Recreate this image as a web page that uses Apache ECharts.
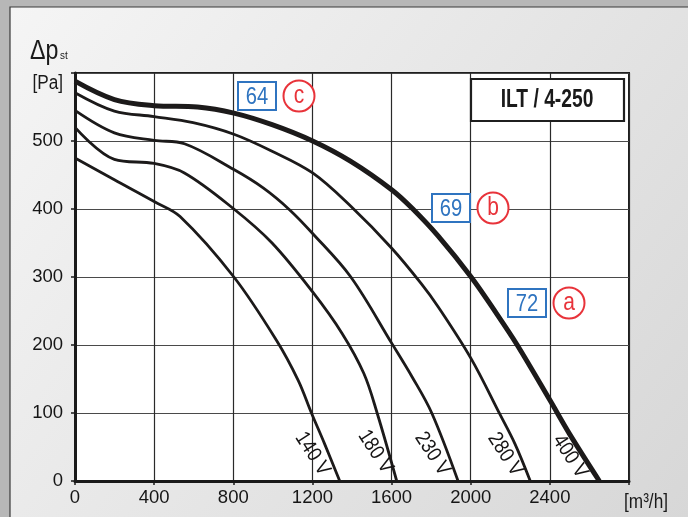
<!DOCTYPE html>
<html>
<head>
<meta charset="utf-8">
<script src="https://cdn.jsdelivr.net/npm/echarts@6/dist/echarts.min.js"></script>
<style>
html,body{margin:0;padding:0;background:#b7b7b7;}
#c{width:688px;height:517px;}
</style>
</head>
<body>
<div id="c"></div>
<script>
// ---- data (airflow m3/h, static pressure Pa) ----
const xTicks = [0, 400, 800, 1200, 1600, 2000, 2400, 2800];
const yTicks = [0, 100, 200, 300, 400, 500, 600];
const curveNames = ['140 V', '180 V', '230 V', '280 V', '400 V'];

const flow140  = [0, 199, 400, 531, 803, 1018, 1128, 1195, 1261, 1338];
const press140 = [475, 443, 411, 389, 300, 207, 148, 100, 55, 0];

const flow180  = [0, 199, 400, 553, 803, 996, 1201, 1350, 1460, 1527, 1626];
const press180 = [520, 473, 467, 453, 400, 350, 278, 217, 158, 100, 0];

const flow230  = [0, 199, 400, 553, 803, 951, 1084, 1201, 1394, 1602, 1704, 1803, 1936];
const press230 = [545, 512, 501, 496, 458, 431, 399, 364, 300, 202, 153, 100, 0];

const flow280  = [0, 199, 400, 597, 803, 996, 1201, 1394, 1602, 1748, 1836, 2002, 2146, 2223, 2301];
const press280 = [571, 544, 536, 527, 510, 485, 453, 404, 342, 291, 256, 180, 99, 55, 0];

const flow400  = [0, 199, 400, 619, 803, 996, 1201, 1394, 1602, 1704, 1836, 2002, 2124, 2235, 2400, 2500, 2650];
const press400 = [588, 561, 552, 550, 541, 524, 500, 470, 428, 401, 360, 300, 249, 200, 119, 69, 0];

// curve-label anchors (data coordinates)
const labelFlow  = [1200, 1518, 1806, 2174, 2502];
const labelPress = [40, 43, 40, 39, 36];

// efficiency badges
const badgeNumbers = ['64', '69', '72'];
const badgeLetters = ['c', 'b', 'a'];
const chartTitle = 'ILT / 4-250';

const zip = (xs, ys) => xs.map((x, i) => [x, ys[i]]);
const curves = [
  zip(flow140, press140), zip(flow180, press180), zip(flow230, press230),
  zip(flow280, press280), zip(flow400, press400)
];

const FONT = "'Liberation Sans', Arial, sans-serif";
const chart = echarts.init(document.getElementById('c'), null, {renderer: 'canvas'});

const lineSeries = curves.map((d, i) => ({
  type: 'line',
  name: curveNames[i],
  data: d,
  showSymbol: false,
  smooth: 0.35,
  lineStyle: {color: '#1c1a1a', width: i === 4 ? 5 : 2.8},
  z: 3,
  silent: true
}));

function txt(x, y, text, size, color, opts) {
  opts = opts || {};
  return {
    type: 'text', x: x, y: y, z: opts.z || 11,
    scaleX: opts.sx || 0.84, rotation: opts.rot || 0,
    style: {text: text, fill: color, font: (opts.bold ? 'bold ' : '') + size + 'px ' + FONT,
      textAlign: opts.align || 'center', textVerticalAlign: 'middle'}
  };
}

function badge(x, y, num, letter) {
  return [
    {type: 'rect', shape: {x: x, y: y, width: 38, height: 28}, style: {fill: '#fff', stroke: '#2f74c0', lineWidth: 2}, z: 10},
    txt(x + 19, y + 15, num, 24, '#2f74c0'),
    {type: 'circle', shape: {cx: x + 61, cy: y + 14, r: 15.5}, style: {fill: '#fff', stroke: '#e8333a', lineWidth: 2}, z: 10},
    txt(x + 61, y + 14, letter, 25, '#e8333a')
  ];
}

const baseGraphic = [
  {type: 'rect', z: -10, shape: {x: 10, y: 7, width: 700, height: 530},
    style: {fill: new echarts.graphic.LinearGradient(0, 0, 1, 1, [{offset: 0, color: '#f5f5f5'}, {offset: 1, color: '#d6d6d6'}]), stroke: '#3a3a3a', lineWidth: 1.2}},
  txt(30, 52, 'Δp', 27, '#1a1a1a', {align: 'left', sx: 0.86}),
  txt(60, 56, 'st', 11, '#1a1a1a', {align: 'left', sx: 0.9}),
  txt(63, 83, '[Pa]', 20, '#1a1a1a', {align: 'right', sx: 0.86}),
  txt(646, 502, '[m³/h]', 20, '#1a1a1a', {sx: 0.86}),
  {type: 'rect', z: 10, shape: {x: 471, y: 79, width: 153, height: 42}, style: {fill: '#fff', stroke: '#1f1f1f', lineWidth: 2.2}},
  txt(547, 100, chartTitle, 26, '#1a1a1a', {bold: true, sx: 0.74}),
  ...badge(238, 82, badgeNumbers[0], badgeLetters[0]),
  ...badge(432, 194, badgeNumbers[1], badgeLetters[1]),
  ...badge(508, 289, badgeNumbers[2], badgeLetters[2])
];

const option = {
  animation: false,
  backgroundColor: '#b7b7b7',
  grid: {left: 75, top: 73, right: 59, bottom: 36, show: true, backgroundColor: '#ffffff', borderColor: '#1f1f1f', borderWidth: 2},
  xAxis: {
    type: 'value', min: xTicks[0], max: xTicks[xTicks.length - 1], interval: 400,
    axisLine: {show: true, onZero: false, lineStyle: {color: '#1a1a1a', width: 3}},
    axisTick: {show: true, length: 4, lineStyle: {color: '#1a1a1a', width: 1.5}},
    axisLabel: {
      margin: 7, color: '#161616', fontFamily: FONT, fontSize: 18.5,
      formatter: v => (v === 2800 ? '' : String(v))
    },
    splitLine: {show: true, lineStyle: {color: '#2a2a2a', width: 1.2}}
  },
  yAxis: {
    type: 'value', min: yTicks[0], max: yTicks[yTicks.length - 1], interval: 100,
    axisLine: {show: true, onZero: false, lineStyle: {color: '#1a1a1a', width: 3}},
    axisTick: {show: true, length: 4, lineStyle: {color: '#1a1a1a', width: 1.5}},
    axisLabel: {
      margin: 12, color: '#161616', fontFamily: FONT, fontSize: 18.5,
      formatter: v => (v === 600 ? '' : String(v))
    },
    splitLine: {show: true, lineStyle: {color: '#4a4a4a', width: 1.2}}
  },
  graphic: baseGraphic,
  series: lineSeries
};
chart.setOption(option);

// curve labels placed through the chart's own coordinate system
const curveLabels = labelFlow.map((x, i) => {
  const p = chart.convertToPixel({gridIndex: 0}, [x, labelPress[i]]);
  return txt(p[0], p[1], curveNames[i], 21, '#161414', {rot: -57 * Math.PI / 180, sx: 0.86, z: 6});
});
chart.setOption({graphic: baseGraphic.concat(curveLabels)});
</script>
</body>
</html>
